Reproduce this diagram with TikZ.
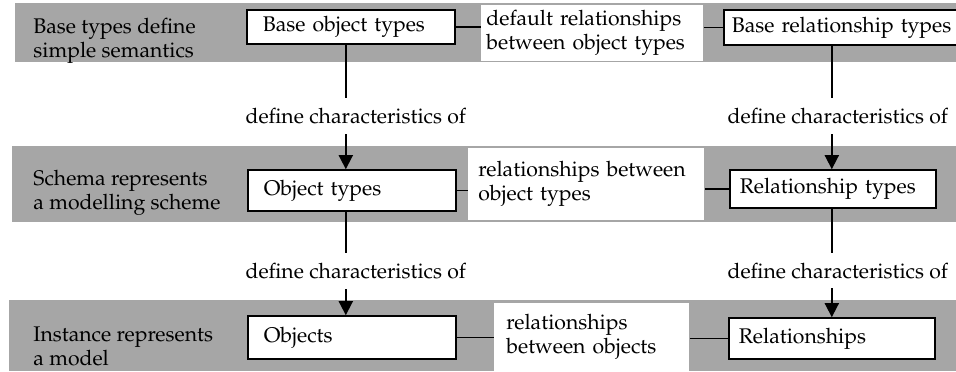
\documentclass[tikz,border=0pt]{standalone}
\usepackage[T1]{fontenc}
\usepackage{mathpazo}
\usetikzlibrary{arrows.meta,calc,positioning}
\tikzset{
        band/.style = {fill=black!35},
        level/.style = {anchor=west, align=left, inner sep=0pt},
        block/.style = {draw, fill=white, rectangle, anchor=west, align=left,
            line width=0.8pt, inner ysep=0pt, inner xsep=8pt, text width=88pt},
        rblock/.style = {block, inner xsep=5pt, text width=93pt},
        note/.style = {fill=white, rectangle, anchor=west, align=left, inner ysep=0pt},
        link/.style = {draw, line width=0.6pt},
        arrow/.style = {draw, line width=0.9pt, -{Triangle[width=7pt,length=7pt]}},
        charlabel/.style = {fill=white, inner xsep=1pt, inner ysep=5pt},
        every node/.style = {font=\fontsize{10.6}{12}\selectfont},
    }
\begin{document}
\begin{tikzpicture}[x=0.5pt,y=0.5pt]
    \useasboundingbox (0,0) rectangle (956,371);

    % the three levels
    \fill[band] (15,309) rectangle (956,368);
    \fill[band] (12,149) rectangle (956,225);
    \fill[band] (9,0) rectangle (956,71);

    \node[level] (base) at (33,330) {Base types define\\simple semantics};
    \node[level] (schema) at (33,178) {Schema represents\\a modelling scheme};
    \node[level] (inst) at (33,25) {Instance represents\\a model};

    % object side
    \node[block, minimum height=17pt] (bot) at (246,344) {Base object types};
    \node[block, minimum height=20.5pt] (ot) at (247,180.5) {Object types};
    \node[block, minimum height=21.5pt] (obj) at (247,33.5) {Objects};

    % relationship side
    \node[rblock, inner xsep=4pt, text width=118pt, minimum height=17.5pt] (brt) at (723,343.5) {Base relationship types};
    \node[rblock, minimum height=19pt] (rt) at (729,182) {Relationship types};
    \node[rblock, minimum height=20.5pt] (rel) at (728,32.5) {Relationships};

    % relationship notes
    \node[note, text width=106pt, inner xsep=2.5pt, minimum height=28pt] (dr) at (481,338.5) {default relationships\\between object types};
    \node[note, text width=108pt, inner xsep=5pt, minimum height=36pt] (rbo) at (468,187) {relationships between\\object types};
    \node[note, text width=85.5pt, inner xsep=6pt, minimum height=34pt] (rbob) at (494,34) {relationships\\between objects};

    \draw[link] (bot.east) -- (bot.east -| dr.west);
    \draw[link] (dr.east |- brt.west) -- (brt.west);
    \draw[link] (ot.east) -- (ot.east -| rbo.west);
    \draw[link] (rbo.east |- rt.west) -- (rt.west);
    \draw[link] (obj.east) -- (obj.east -| rbob.west);
    \draw[link] (rbob.east |- rel.west) -- (rel.west);

    % define characteristics of
    \coordinate (lx) at ($(ot.north)+(-6,0)$);
    \coordinate (rx) at ($(rt.north)+(-1,0)$);
    \coordinate (ltop) at (bot.south -| lx);
    \coordinate (rtop) at (brt.south -| rx);
    \coordinate (lmid) at (ot.south -| lx);
    \coordinate (rmid) at (rt.south -| rx);
    \draw[arrow] (ltop) -- (lx);
    \draw[arrow] (rtop) -- (rx);
    \draw[arrow] (lmid) -- (obj.north -| lx);
    \draw[arrow] (rmid) -- (rel.north -| rx);

    \node[charlabel] (dc1) at ($(ltop)!0.57!(lx)+(10,0)$) {define characteristics of};
    \node[charlabel] (dc2) at ($(rtop)!0.57!(rx)+(6,0)$) {define characteristics of};
    \node[charlabel] (dc3) at ($(lmid)!0.57!(obj.north -| lx)+(10,0)$) {define characteristics of};
    \node[charlabel] (dc4) at ($(rmid)!0.57!(rel.north -| rx)+(6,0)$) {define characteristics of};
\end{tikzpicture}
\end{document}
